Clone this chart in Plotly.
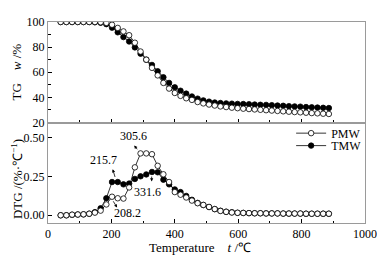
import plotly.graph_objects as go

temps = list(range(40, 887, 18))

tg_pmw = [100, 100, 100, 100, 100, 100, 100, 99.8, 99.3, 97.8, 95.3, 92.5, 89.5, 83.5,
          76.5, 70.0, 63.5, 57.5, 51.5, 47.0, 43.5, 41.2, 39.3, 38.0, 36.3, 35.2, 34.3,
          33.5, 32.8, 32.3, 31.8, 31.4, 31.0, 30.7, 30.4, 30.1, 29.8, 29.5, 29.2, 28.9,
          28.6, 28.3, 28.1, 27.8, 27.5, 27.3, 27.0, 26.8]
tg_tmw = [100, 100, 100, 100, 100, 100, 99.8, 99.4, 98.3, 95.5, 91.8, 88.0, 84.5, 79.8,
          74.8, 70.0, 65.8, 60.8, 56.0, 51.5, 48.0, 45.3, 43.0, 40.7, 39.0, 37.6, 36.6,
          35.9, 35.5, 35.2, 35.0, 34.8, 34.7, 34.5, 34.3, 34.1, 34.0, 33.8, 33.5, 33.3,
          33.0, 32.8, 32.6, 32.3, 32.1, 31.9, 31.7, 31.5]
dtg_pmw = [0.0, 0.0, 0.004, 0.005, 0.006, 0.01, 0.017, 0.03, 0.07, 0.12, 0.11, 0.108,
           0.18, 0.31, 0.40, 0.40, 0.395, 0.32, 0.265, 0.215, 0.15, 0.133, 0.115, 0.095,
           0.078, 0.067, 0.054, 0.04, 0.028, 0.022, 0.018, 0.016, 0.015, 0.014, 0.013,
           0.013, 0.012, 0.012, 0.012, 0.011, 0.011, 0.011, 0.011, 0.01, 0.01, 0.01,
           0.01, 0.01]
dtg_tmw = [0.0, 0.0, 0.003, 0.005, 0.006, 0.01, 0.02, 0.045, 0.11, 0.215, 0.215, 0.20,
           0.205, 0.235, 0.252, 0.264, 0.28, 0.278, 0.23, 0.20, 0.167, 0.15, 0.125, 0.10,
           0.08, 0.066, 0.053, 0.04, 0.029, 0.023, 0.019, 0.016, 0.015, 0.014, 0.013,
           0.013, 0.012, 0.012, 0.012, 0.011, 0.011, 0.011, 0.011, 0.01, 0.01, 0.01,
           0.01, 0.01]

peak_labels = ["305.6", "215.7", "331.6", "208.2"]
label_pos = [(271, 0.51), (174, 0.36), (314, 0.153), (251, 0.016)]
arrow_tail = [(285, 0.417), (213, 0.238), (327, 0.26), (203, 0.10)]
arrow_head = [(272, 0.452), (204, 0.298), (327, 0.219), (218, 0.05)]

FONT = "Liberation Serif, Times New Roman, serif"
GRID = "#9a9a9a"

fig = go.Figure()

open_marker = dict(symbol="circle", size=5.5, color="white", line=dict(color="black", width=0.8))
fill_marker = dict(symbol="circle", size=5.5, color="black", line=dict(color="black", width=0.8))
line_style = dict(color="black", width=0.8)

fig.add_trace(go.Scatter(x=temps, y=tg_tmw, mode="lines+markers", name="TMW",
                         line=line_style, marker=fill_marker,
                         xaxis="x", yaxis="y", showlegend=False))
fig.add_trace(go.Scatter(x=temps, y=tg_pmw, mode="lines+markers", name="PMW",
                         line=line_style, marker=open_marker,
                         xaxis="x", yaxis="y", showlegend=False))
fig.add_trace(go.Scatter(x=temps, y=dtg_tmw, mode="lines+markers", name="TMW",
                         line=line_style, marker=fill_marker,
                         xaxis="x2", yaxis="y2", legend="legend2"))
fig.add_trace(go.Scatter(x=temps, y=dtg_pmw, mode="lines+markers", name="PMW",
                         line=line_style, marker=open_marker,
                         xaxis="x2", yaxis="y2", legend="legend"))

annotations = []
for txt, (lx, ly) in zip(peak_labels, label_pos):
    annotations.append(dict(x=lx, y=ly, xref="x2", yref="y2", text=txt, showarrow=False,
                            font=dict(family=FONT, size=12, color="black")))
for (tx, ty), (hx, hy) in zip(arrow_tail, arrow_head):
    annotations.append(dict(x=hx, y=hy, ax=tx, ay=ty, xref="x2", yref="y2",
                            axref="x2", ayref="y2", text="", showarrow=True,
                            arrowhead=2, arrowsize=0.8, arrowwidth=0.8, arrowcolor="black"))
# axis titles
annotations.append(dict(x=-0.1, y=0.75, xref="paper", yref="paper", xanchor="center",
                        yanchor="middle", text="TG    <i>w</i> /%", textangle=-90,
                        showarrow=False, font=dict(family=FONT, size=13, color="black")))
annotations.append(dict(x=-0.1, y=0.22, xref="paper", yref="paper", xanchor="center",
                        yanchor="middle", text="DTG /(%·℃<sup>−1</sup>)", textangle=-90,
                        showarrow=False, font=dict(family=FONT, size=13, color="black")))
annotations.append(dict(x=0.48, y=-0.12, xref="paper", yref="paper", xanchor="center",
                        yanchor="middle", text="Temperature    <i>t</i> /℃",
                        showarrow=False, font=dict(family=FONT, size=13, color="black")))

axis_common = dict(showline=True, linecolor=GRID, linewidth=1, mirror=True,
                   ticks="inside", tickcolor="black", tickwidth=1, ticklen=4,
                   showgrid=False, zeroline=False,
                   tickfont=dict(family=FONT, size=12, color="black"))
minor_x = dict(dtick=100, ticks="inside", ticklen=2.5, tickcolor="black")

fig.update_layout(
    width=377, height=252,
    margin=dict(l=40, r=20, t=7, b=37),
    paper_bgcolor="white", plot_bgcolor="white",
    font=dict(family=FONT, size=12, color="black"),
    xaxis=dict(domain=[0, 1], anchor="y", range=[0, 1000], dtick=200, showticklabels=False,
               minor=minor_x, **axis_common),
    yaxis=dict(domain=[0.5, 1], anchor="x", range=[20, 100], dtick=20,
               minor=dict(dtick=10, ticks="inside", ticklen=2.5, tickcolor="black"),
               **axis_common),
    xaxis2=dict(domain=[0, 1], anchor="y2", range=[0, 1000], dtick=200,
                minor=minor_x, **axis_common),
    yaxis2=dict(domain=[0, 0.5], anchor="x2", range=[-0.05, 0.6],
                tickvals=[0, 0.25, 0.5], ticktext=["0.00", "0.25", "0.50"],
                **axis_common),
    legend=dict(x=0.767, y=0.447, xanchor="left", yanchor="middle", bgcolor="rgba(0,0,0,0)",
                font=dict(family=FONT, size=12, color="black"), itemwidth=30),
    legend2=dict(x=0.767, y=0.385, xanchor="left", yanchor="middle", bgcolor="rgba(0,0,0,0)",
                 font=dict(family=FONT, size=12, color="black"), itemwidth=30),
    annotations=annotations,
)

fig.write_html("out.html")
